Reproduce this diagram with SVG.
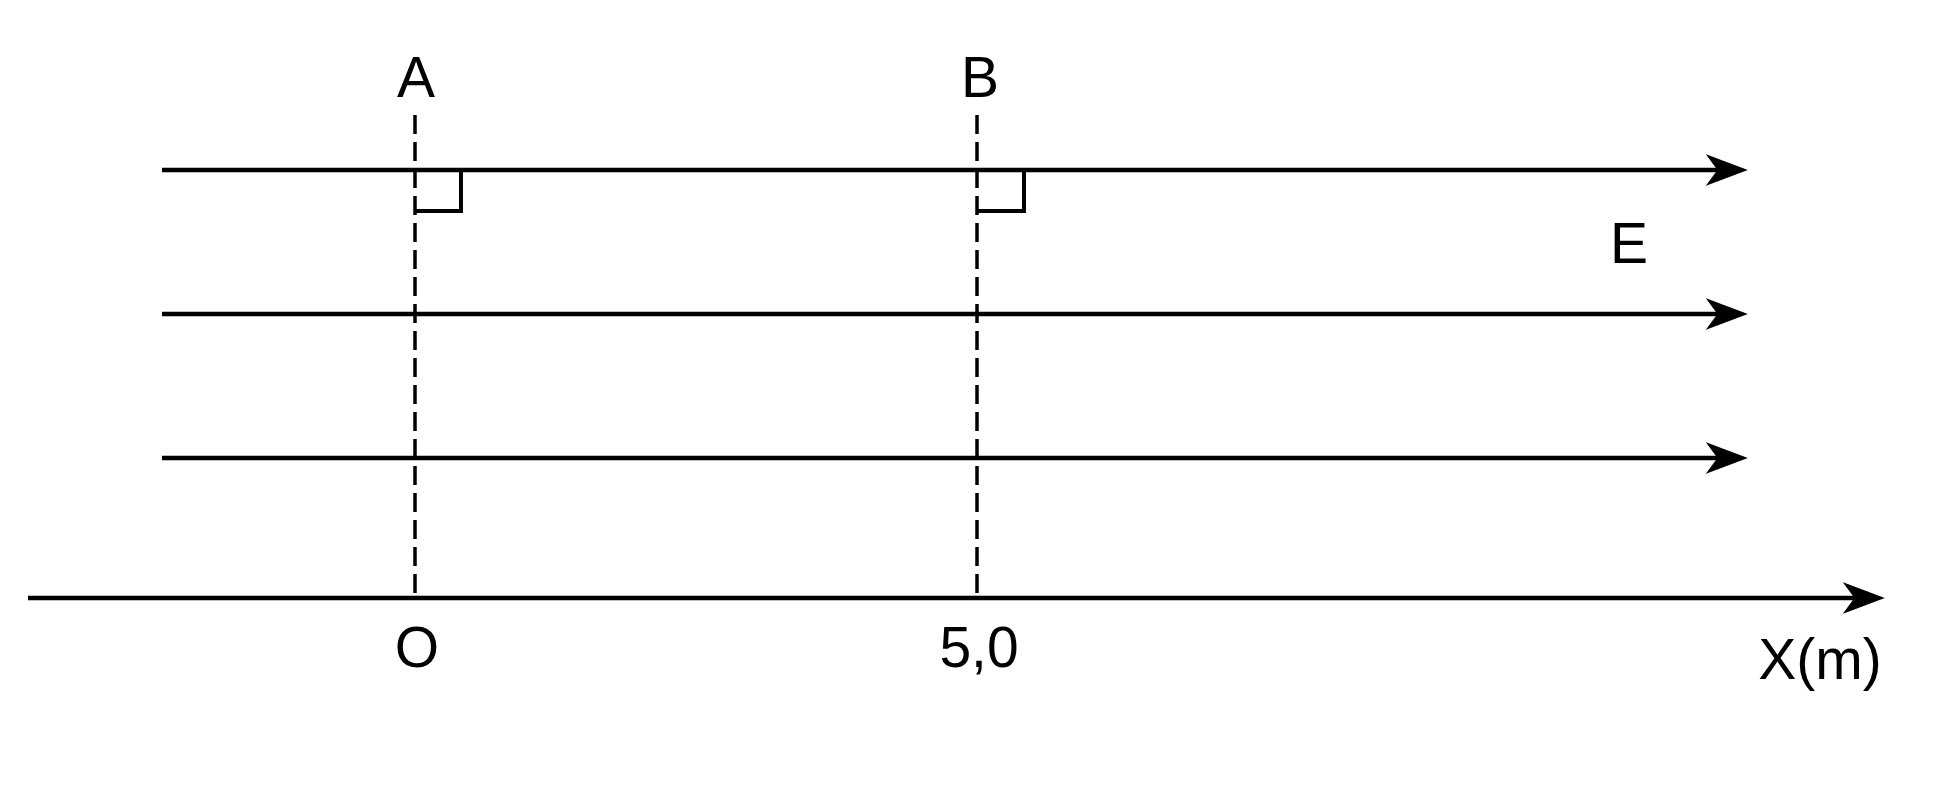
<svg xmlns="http://www.w3.org/2000/svg" width="1940" height="810" viewBox="0 0 1940 810">
  <style>
    .field { stroke: #000; stroke-width: 4.5; fill: none; }
    .dash { stroke: #000; stroke-width: 3.5; stroke-dasharray: 19 8; fill: none; }
    .mark { stroke: #000; stroke-width: 4; fill: none; }
    .lbl { font-family: "Liberation Sans", Arial, sans-serif; font-size: 57px; fill: #000; text-anchor: middle; }
  </style>
  <defs>
    <marker id="arr" markerUnits="userSpaceOnUse" markerWidth="42" markerHeight="32" viewBox="0 0 40 30" refX="23" refY="15" orient="auto">
      <path d="M0,0 L40,15 L0,30 L11,15 z" fill="#000"/>
    </marker>
  </defs>
  <rect width="1940" height="810" fill="#fff"/>
  <g id="connectors">
    <line id="field1" class="field" x1="162" y1="170" x2="1730" y2="170" marker-end="url(#arr)"/>
    <line id="field2" class="field" x1="162" y1="314" x2="1730" y2="314" marker-end="url(#arr)"/>
    <line id="field3" class="field" x1="162" y1="458" x2="1730" y2="458" marker-end="url(#arr)"/>
    <line id="axis" class="field" x1="28" y1="598" x2="1867" y2="598" marker-end="url(#arr)"/>
    <line id="lineA" class="dash" x1="415" y1="115" x2="415" y2="598"/>
    <line id="lineB" class="dash" x1="977" y1="115" x2="977" y2="598"/>
    <path id="rightA" class="mark" d="M415,211 L461,211 L461,170"/>
    <path id="rightB" class="mark" d="M977,211 L1024,211 L1024,170"/>
  </g>
  <g id="labelA"><text class="lbl" x="416" y="97">A</text></g>
  <g id="labelB"><text class="lbl" x="980" y="97">B</text></g>
  <g id="labelE"><text class="lbl" x="1629" y="263">E</text></g>
  <g id="labelO"><text class="lbl" x="417" y="667">O</text></g>
  <g id="label50"><text class="lbl" x="979" y="667">5,0</text></g>
  <g id="labelX"><text class="lbl" x="1820" y="679">X(m)</text></g>
</svg>
